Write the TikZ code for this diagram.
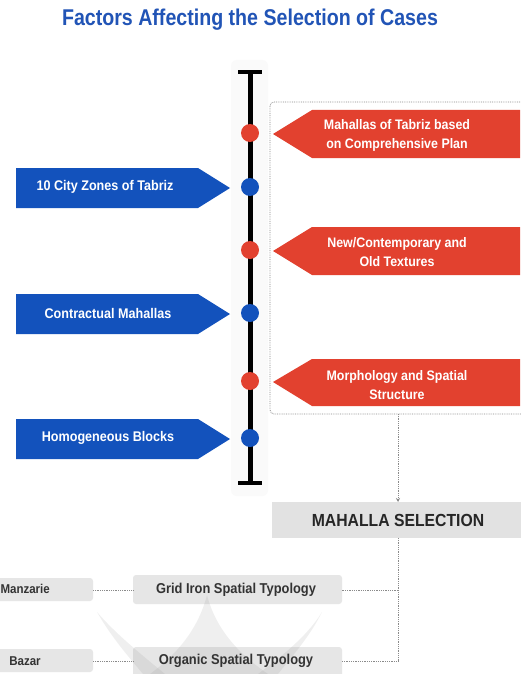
\documentclass[tikz,border=0pt]{standalone}
\usepackage{fontspec}
\setmainfont{Liberation Sans}
\newfontfamily\titlefont[FakeStretch=0.86]{Liberation Sans}
\newfontfamily\labelfont[FakeStretch=0.9]{Liberation Sans}
\usetikzlibrary{arrows.meta}

\definecolor{factblue}{HTML}{1352BC}
\definecolor{titleblue}{HTML}{2154B6}
\definecolor{factred}{HTML}{E2412F}
\definecolor{boxgray}{HTML}{E2E2E2}
\definecolor{textgray}{HTML}{333333}
\definecolor{dotgray}{HTML}{8A8A8A}

\tikzset{
  bluearrow/.style={fill=factblue, draw=none},
  redarrow/.style={fill=factred, draw=none},
  bluelabel/.style={text=white, font=\labelfont\bfseries\fontsize{14}{16}\selectfont, align=center},
  redlabel/.style={text=white, font=\labelfont\bfseries\fontsize{13.8}{19}\selectfont, align=center},
  reddot/.style={circle, fill=factred, minimum size=18pt, inner sep=0pt},
  bluedot/.style={circle, fill=factblue, minimum size=18pt, inner sep=0pt},
  linkline/.style={dotgray, densely dotted, line width=0.8pt},
  typebox/.style={fill=boxgray!85, draw=none, rounded corners=3pt},
  typelabel/.style={text=textgray, font=\labelfont\bfseries\fontsize{14.3}{16}\selectfont},
  sidelabel/.style={text=textgray, font=\labelfont\bfseries\fontsize{12.8}{15}\selectfont},
}

\begin{document}
\begin{tikzpicture}[x=1pt, y=-1pt]
  \useasboundingbox (0,0) rectangle (520,674);
  \fill[white] (0,0) rectangle (520,674);

  % title
  \node[text=titleblue, font=\titlefont\bfseries\fontsize{22.8}{26}\selectfont] (title) at (250,20) {Factors Affecting the Selection of Cases};

  % soft band behind the axis
  \fill[gray!4, rounded corners=6pt] (231,60) rectangle (268,496);

  % vertical axis with end caps
  \coordinate (axtop) at (250,72);
  \coordinate (axbot) at (250,483);
  \draw[black, line width=5pt] (axtop) -- (axbot);
  \draw[black, line width=4pt] (238,72) -- (262,72);
  \draw[black, line width=4pt] (238,483) -- (262,483);

  % dotted frame around the red factors
  \draw[linkline, rounded corners=4pt] (270,102) rectangle (535,414);

  % blue factors (left)
  \fill[bluearrow] (16,168) -- (198,168) -- (230,188) -- (198,208) -- (16,208) -- cycle;
  \fill[bluearrow] (16,294) -- (198,294) -- (230,314) -- (198,334) -- (16,334) -- cycle;
  \fill[bluearrow] (16,419) -- (198,419) -- (230,439) -- (198,459) -- (16,459) -- cycle;
  \node[bluelabel] (zones) at (105,187) {10 City Zones of Tabriz};
  \node[bluelabel] (contract) at (108,313) {Contractual Mahallas};
  \node[bluelabel] (blocks) at (108,438) {Homogeneous Blocks};

  % red factors (right)
  \fill[redarrow] (520,110) -- (312,110) -- (273,134) -- (312,158) -- (520,158) -- cycle;
  \fill[redarrow] (520,227) -- (312,227) -- (273,251) -- (312,275) -- (520,275) -- cycle;
  \fill[redarrow] (520,359) -- (312,359) -- (273,382) -- (312,406) -- (520,406) -- cycle;
  \node[redlabel] (plan) at (397,135) {Mahallas of Tabriz based\\on Comprehensive Plan};
  \node[redlabel] (texture) at (397,252) {New/Contemporary and\\Old Textures};
  \node[redlabel] (morph) at (397,385) {Morphology and Spatial\\Structure};

  % dots on the axis
  \node[reddot] (r1) at (250,133) {};
  \node[bluedot] (b1) at (250,187) {};
  \node[reddot] (r2) at (250,250) {};
  \node[bluedot] (b2) at (250,313) {};
  \node[reddot] (r3) at (250,381) {};
  \node[bluedot] (b3) at (250,438) {};

  % selection box
  \fill[boxgray] (272,502) rectangle (528,538);
  \node[text=black!85, font=\labelfont\bfseries\fontsize{17.5}{20}\selectfont] (select) at (398,520) {MAHALLA SELECTION};
  \coordinate (frameout) at (398,414);
  \coordinate (selecttop) at (398,502);
  \coordinate (selectbot) at (398,538);
  \draw[linkline, -{Stealth[length=4pt,width=4pt]}] (frameout) -- (selecttop);

  % typology boxes
  \fill[typebox] (133,575) rectangle (342,604);
  \fill[typebox] (133,647) rectangle (342,684);
  \fill[typebox] (-6,578) rectangle (93,601);
  \fill[typebox] (-6,649) rectangle (93,672);

  % faint emblem behind the typologies
  \begin{scope}[fill=gray, opacity=0.12]
    \fill (97,612) .. controls (112,638) and (128,656) .. (143,674) -- (165,674) .. controls (138,652) and (114,632) .. (97,612) -- cycle;
    \fill (207,595) .. controls (198,630) and (176,655) .. (150,674) -- (268,674) .. controls (240,655) and (216,630) .. (207,595) -- cycle;
    \fill (322,612) .. controls (310,636) and (294,654) .. (278,674) -- (258,674) .. controls (288,652) and (310,632) .. (322,612) -- cycle;
  \end{scope}

  \node[typelabel] (grid) at (236,590) {Grid Iron Spatial Typology};
  \node[typelabel] (organic) at (236,661) {Organic Spatial Typology};
  \node[sidelabel, anchor=west] (manz) at (-3,589) {Manzarie};
  \node[sidelabel] (bazar) at (25,661) {Bazar};

  % connectors
  \coordinate (gridjoin) at (398,590);
  \coordinate (orgjoin) at (398,661);
  \draw[linkline] (selectbot) -- (orgjoin) -- (342,661);
  \draw[linkline] (gridjoin) -- (342,590);
  \draw[linkline] (93,590) -- (133,590);
  \draw[linkline] (93,661) -- (133,661);
\end{tikzpicture}
\end{document}
